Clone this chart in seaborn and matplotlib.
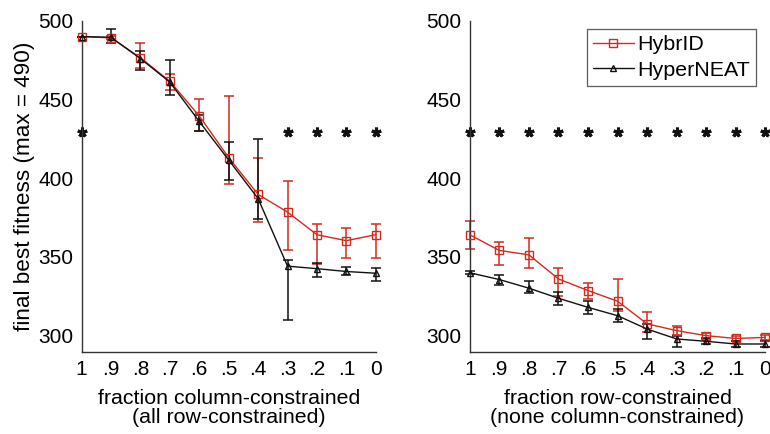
import numpy as np
import pandas as pd
import matplotlib
matplotlib.use('Agg')
import matplotlib.pyplot as plt
import seaborn as sns

# x positions (fraction constrained), shown from 1 down to 0
frac = [1.0, 0.9, 0.8, 0.7, 0.6, 0.5, 0.4, 0.3, 0.2, 0.1, 0.0]
tick_labels = ['1', '.9', '.8', '.7', '.6', '.5', '.4', '.3', '.2', '.1', '0']

# left panel: fraction column-constrained
col_hybrid = [490, 489.2, 476.5, 461.5, 439.5, 413, 389.6, 378.4, 364, 360.2, 364]
col_hybrid_lo = [0, 1, 6.5, 5.5, 9.5, 17, 17.6, 24.2, 18.5, 11.2, 14.7]
col_hybrid_hi = [0, 1, 9.5, 5, 10.5, 39, 23.4, 19.6, 6.5, 8.2, 6.7]
col_hyper = [490, 489.5, 476, 461, 436, 411.5, 387, 344, 342.4, 340.6, 339.5]
col_hyper_lo = [0, 3.5, 7, 8, 6, 13, 13, 34, 5.4, 2, 5]
col_hyper_hi = [0, 5, 5, 14, 4, 11.5, 37.6, 3.6, 3.6, 2.7, 3.5]
col_sig = [1, 0, 0, 0, 0, 0, 0, 1, 1, 1, 1]

# right panel: fraction row-constrained
row_hybrid = [364, 354, 351.2, 335.9, 328.5, 321.7, 307.3, 303, 299.8, 298, 298.7]
row_hybrid_lo = [9, 9, 8.3, 10.6, 5.3, 6, 5.3, 3, 2, 1.5, 1.5]
row_hybrid_hi = [9, 5.3, 10.6, 6.8, 4.6, 14.3, 7.4, 3, 2, 1.5, 1.5]
row_hyper = [339.8, 335.5, 330, 323.6, 317.8, 312.5, 304, 297.7, 296.2, 294.5, 294.5]
row_hyper_lo = [1, 3.8, 3, 4.6, 4.3, 4, 6.3, 5.3, 2, 2, 2]
row_hyper_hi = [1, 3, 4.3, 3.8, 3.9, 4, 3.3, 2.1, 2, 2, 2]
row_sig = [1, 1, 1, 1, 1, 1, 1, 1, 1, 1, 1]

star_level = 429

sns.set_style('white')
plt.rcParams['font.family'] = ['Liberation Sans', 'DejaVu Sans']
plt.rcParams['font.size'] = 15
plt.rcParams['text.color'] = 'black'
plt.rcParams['axes.labelcolor'] = 'black'

RED = '#d42a1e'
BLACK = '#111111'

fig = plt.figure(figsize=(7.7, 4.34), dpi=100)
ax_l = fig.add_axes([0.106, 0.190, 0.382, 0.762])
ax_r = fig.add_axes([0.610, 0.190, 0.384, 0.762])


def draw_panel(ax, hyb, hyb_lo, hyb_hi, hyp, hyp_lo, hyp_hi, sig, xlabel):
    series = [
        ('HybrID', hyb, hyb_lo, hyb_hi, RED, 's', 5.5),
        ('HyperNEAT', hyp, hyp_lo, hyp_hi, BLACK, '^', 4.5),
    ]
    for name, vals, lo, hi, color, marker, ms in series:
        df = pd.DataFrame({'frac': frac, 'fitness': vals})
        ax.errorbar(df.frac, df.fitness, yerr=[lo, hi], fmt='none',
                    ecolor=color, elinewidth=1.1, capsize=3.5, capthick=1.1,
                    clip_on=False, zorder=2)
        sns.lineplot(data=df, x='frac', y='fitness', ax=ax, color=color,
                     marker=marker, markersize=ms, markerfacecolor='none',
                     markeredgecolor=color, markeredgewidth=1.0,
                     linewidth=1.0, label=name, clip_on=False, zorder=3,
                     estimator=None, sort=False)
    # significance stars
    sx = [f for f, s in zip(frac, sig) if s]
    ax.plot(sx, [star_level] * len(sx), linestyle='none', marker=(5, 2, 0),
            markersize=7, markeredgewidth=2.2, color=BLACK, clip_on=False)

    ax.set_xlim(1, 0)
    ax.set_ylim(289.7, 500)
    ax.set_xticks(frac)
    ax.set_xticklabels(tick_labels)
    ax.set_yticks([300, 350, 400, 450, 500])
    ax.set_xlabel(xlabel, linespacing=1.0, labelpad=7, fontsize=15.4)
    ax.set_ylabel('')
    ax.tick_params(direction='in', length=4, width=0.8, colors='#333333',
                   labelcolor='black', labelsize=15, pad=6)
    for side in ['top', 'right']:
        ax.spines[side].set_visible(False)
    for side in ['left', 'bottom']:
        ax.spines[side].set_color('#333333')
        ax.spines[side].set_linewidth(1.0)
    ax.get_legend().remove()


draw_panel(ax_l, col_hybrid, col_hybrid_lo, col_hybrid_hi,
           col_hyper, col_hyper_lo, col_hyper_hi, col_sig,
           'fraction column-constrained\n(all row-constrained)')
draw_panel(ax_r, row_hybrid, row_hybrid_lo, row_hybrid_hi,
           row_hyper, row_hyper_lo, row_hyper_hi, row_sig,
           'fraction row-constrained\n(none column-constrained)')

ax_l.set_ylabel('final best fitness (max = 490)', labelpad=2, fontsize=16.2)

handles = [l for l in ax_r.get_lines() if l.get_label() in ('HybrID', 'HyperNEAT')]
leg = ax_r.legend(handles=handles, labels=['HybrID', 'HyperNEAT'],
                  loc='upper right', bbox_to_anchor=(0.99, 0.995),
                  frameon=True, fancybox=False, handlelength=1.9,
                  handletextpad=0.15, borderpad=0.3, labelspacing=0.3,
                  borderaxespad=0.3, fontsize=15.4)
leg.get_frame().set_edgecolor('#333333')
leg.get_frame().set_linewidth(0.9)

fig.savefig('out.png', dpi=100)
